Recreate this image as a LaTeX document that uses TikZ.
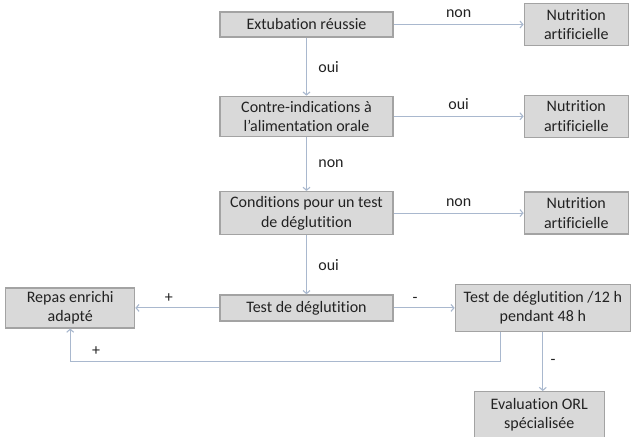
\documentclass[tikz,border=0pt]{standalone}
\usepackage{fontspec}
\setmainfont{Carlito}[Ligatures=NoCommon]
\usetikzlibrary{
  arrows.meta,
  positioning
}
\definecolor{BoxGrey}{HTML}{D9D9D9}
\definecolor{EdgeGrey}{HTML}{A3A3A3}
\definecolor{LinkBlue}{HTML}{A9B8CE}
\definecolor{InkGrey}{HTML}{222222}
\tikzset{
  % Step box: grey fill, size given per node
  box/.style={
    rectangle, draw=EdgeGrey, fill=BoxGrey,
    line width=1.3pt, inner sep=0pt,
    align=center, text=InkGrey,
    font=\fontsize{16}{19.5}\selectfont
  },
  % Connector with open tip
  arr/.style={
    -{Straight Barb[length=3pt,width=7pt]},
    line width=1.1pt, color=LinkBlue
  },
  % Connector label
  lbl/.style={font=\fontsize{16}{18}\selectfont, text=InkGrey}
}
\begin{document}
\begin{tikzpicture}[x=1pt, y=-1pt]
  \useasboundingbox (0,0) rectangle (631,436);
  \node[box, minimum width=173pt, minimum height=25pt] (ext) at (306.5,24.5) {Extubation réussie};
  \node[box, minimum width=173pt, minimum height=40pt, below=58pt of ext] (contre) {Contre-indications à\\l'alimentation orale};
  \node[box, minimum width=173pt, minimum height=43pt, below=54pt of contre] (cond) {Conditions pour un test\\de déglutition};
  \node[box, minimum width=173pt, minimum height=26pt, below=59pt of cond] (test) {Test de déglutition};
  \node[box, minimum width=104pt, minimum height=42pt, right=130pt of ext] (nut1) {Nutrition\\artificielle};
  \node[box, minimum width=104pt, minimum height=42pt, right=130pt of contre] (nut2) {Nutrition\\artificielle};
  \node[box, minimum width=104pt, minimum height=42pt, right=130pt of cond] (nut3) {Nutrition\\artificielle};
  \node[box, minimum width=129pt, minimum height=40pt, left=84pt of test] (repas) {Repas enrichi\\adapté};
  \node[box, minimum width=175pt, minimum height=47pt, right=61pt of test] (t12) {Test de déglutition /12 h\\pendant 48 h};
  \node[box, minimum width=130pt, minimum height=46pt, below=59pt of t12, xshift=-3.5pt] (orl) {Evaluation ORL\\spécialisée};

  \draw[arr] (ext) -- (nut1) node[lbl, midway, above=3pt] {non};
  \draw[arr] (contre) -- (nut2) node[lbl, midway, above=3pt] {oui};
  \draw[arr] (cond) -- (nut3) node[lbl, midway, above=3pt] {non};
  \draw[arr] (ext) -- (contre) node[lbl, midway, right=8pt] {oui};
  \draw[arr] (contre) -- (cond) node[lbl, midway, right=8pt] {non};
  \draw[arr] (cond) -- (test) node[lbl, midway, right=8pt] {oui};
  \draw[arr] (test) -- (repas) node[lbl, pos=0.6, above=2pt] {+};
  \draw[arr] (test) -- (t12) node[lbl, pos=0.35, above=2pt] {-};
  \draw[arr] ([xshift=-42.5pt]t12.south) -- ++(0,29) -| (repas.south) node[lbl, pos=0.47, above=2pt] {+};
  \draw[arr] (t12.south -| orl.north) ++(3.5,0) -- ++(0,59) node[lbl, midway, right=4pt] {-};
\end{tikzpicture}
\end{document}
